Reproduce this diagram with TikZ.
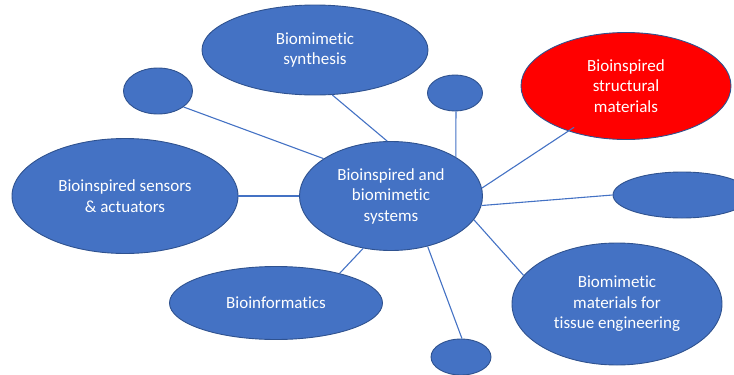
\documentclass[tikz,border=0pt]{standalone}
\usepackage{fontspec}
\setmainfont[Ligatures=NoCommon]{Carlito}
\usetikzlibrary{shapes.geometric}
\definecolor{officeblue}{HTML}{4472C4}
\definecolor{officeedge}{HTML}{2F528F}
\definecolor{officered}{HTML}{FF0000}
\begin{document}
\begin{tikzpicture}[x=1pt,y=-1pt]
        \tikzstyle{bubble}=[ellipse,draw=officeedge,line width=0.9pt,fill=officeblue,inner sep=0pt,
          text=white,align=center,font=\fontsize{17}{20.5}\selectfont]
        \tikzstyle{link}=[draw=officeblue,line width=1.1pt]
        \useasboundingbox (0,0) rectangle (734,375);
        \clip (0,0) rectangle (734,375);
       \begin{scope}
         \node [bubble,minimum width=183,minimum height=109] (hub) at (391,196) {Bioinspired and\\biomimetic\\systems};
         \node [bubble,minimum width=226,minimum height=90] (synth) at (315,50) {Biomimetic\\synthesis};
         \node [bubble,minimum width=210,minimum height=107,fill=officered] (struct) at (626,86) {Bioinspired\\structural\\materials};
         \node [bubble,minimum width=226,minimum height=115] (sensors) at (125,196) {Bioinspired sensors\\\& actuators};
         \node [bubble,minimum width=213,minimum height=73] (bioinf) at (276,303) {Bioinformatics};
         \node [bubble,minimum width=210,minimum height=122] (tissue) at (617,304) {Biomimetic\\materials for\\tissue engineering};
         \node [bubble,minimum width=69,minimum height=46] (b1) at (158,91) {};
         \node [bubble,minimum width=55,minimum height=36] (b2) at (455,93) {};
         \node [bubble,minimum width=138,minimum height=46] (b3) at (682,195) {};
         \node [bubble,minimum width=60,minimum height=36] (b4) at (461,357) {};
         \path[link] (synth.-69) -- (hub.94);
         \path[link] (b1.-32) -- (hub.151);
         \path[link] (b2.-87) -- (hub.31);
         \path[link,shorten <=-7pt] (struct.218) -- (hub.5);
         \path[link] (b3.180) -- (hub.-6);
         \path[link] (sensors.0) -- (hub.180);
         \path[link] (bioinf.25) -- (hub.242);
         \path[link] (tissue.163) -- (hub.-16);
         \path[link] (b4.87) -- (hub.-54);
        \end{scope}
      \end{tikzpicture}
\end{document}
